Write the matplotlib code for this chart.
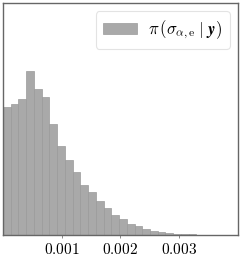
import numpy as np
import matplotlib
matplotlib.use("Agg")
import matplotlib.pyplot as plt
from matplotlib.ticker import FuncFormatter

plt.rcParams['mathtext.fontset'] = 'cm'

# histogram of posterior samples (density)
bin_edges = np.linspace(0.0, 0.00395, 31)
density = [688, 705, 729, 879, 784, 740, 595, 478, 405, 341,
           271, 230, 182, 146, 107, 89, 63, 48, 35, 23,
           16, 12, 9, 7, 5, 3, 2, 1, 0.5, 0.3]
xticks = [0.001, 0.002, 0.003]
label = r'$\pi\,(\sigma_{\alpha,\mathrm{e}}\;|\;\boldsymbol{y})$'

fig = plt.figure(figsize=(2.41, 2.57), dpi=100)
ax = fig.add_axes([3 / 241, 21.7 / 257, 235 / 241, 232.3 / 257])

ax.bar(bin_edges[:-1], density, width=np.diff(bin_edges), align='edge',
       color='#a9a9a9', edgecolor='#9a9a9a', linewidth=0.5, label=label)

ax.set_xlim(0, 0.004)
ax.set_ylim(0, max(density) * 232.3 / 164)
ax.set_xticks(xticks)
ax.xaxis.set_major_formatter(FuncFormatter(lambda v, p: r'$%.3f$' % v))
ax.set_yticks([])
ax.tick_params(axis='x', length=2, width=0.6, color='#777777', pad=3,
               labelsize=11)
for s in ax.spines.values():
    s.set_color('#666666')
    s.set_linewidth(1.0)

leg = ax.legend(loc='upper right', fontsize=12, frameon=True, fancybox=True,
                handlelength=2.0, handletextpad=0.7, borderpad=0.45,
                borderaxespad=0.5)
leg.get_frame().set_edgecolor('#dddddd')
leg.get_frame().set_linewidth(0.8)

fig.savefig('out.png', dpi=100)
